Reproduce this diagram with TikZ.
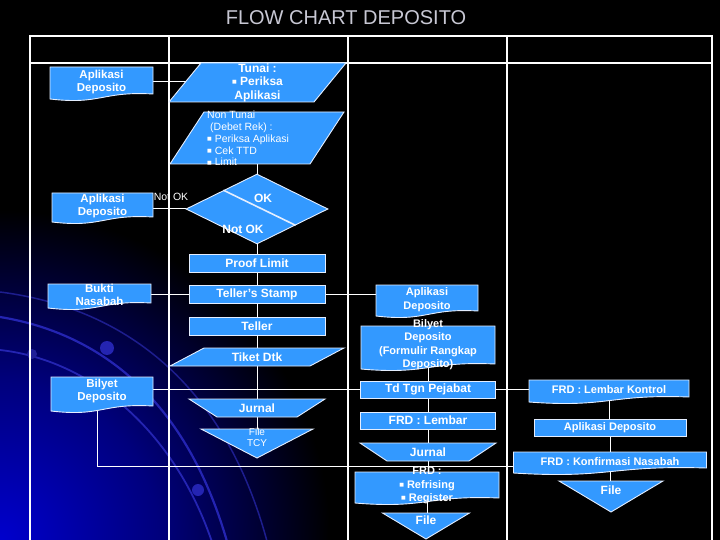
\documentclass[tikz,border=0pt]{standalone}
\usepackage{fontspec}
\setmainfont{Liberation Sans}
\newfontfamily\djv{DejaVu Sans}
\usetikzlibrary{shapes.geometric,calc}
\definecolor{flow}{RGB}{51,153,255}
\definecolor{edgec}{RGB}{228,238,255}
\definecolor{titlec}{RGB}{200,200,212}
\definecolor{arcc}{RGB}{36,36,178}
\definecolor{glowA}{RGB}{0,0,205}
\definecolor{glowB}{RGB}{0,0,125}
\pgfdeclarelayer{bgl}
\pgfdeclarelayer{lines}
\pgfdeclarelayer{shapes}
\pgfsetlayers{bgl,lines,shapes,main}
\pgfdeclareradialshading{glow}{\pgfpoint{0bp}{0bp}}{color(0bp)=(glowA); color(12bp)=(glowB); color(25bp)=(black); color(50bp)=(black)}
\newcommand\sqb{\raisebox{0.3ex}{\djv\fontsize{5}{5}\selectfont ■}}
\newcommand\mydoc[1]{\draw[shp] (#1.north west) -- (#1.north east) -- ([yshift=3pt]#1.south east) .. controls ([yshift=6pt]#1.south) and ([yshift=-8pt]#1.south) .. ([yshift=-2pt]#1.south west) -- cycle;}
\newcommand\myparal[2]{\draw[shp] (#1.south west) -- ([xshift=-#2]#1.south east) -- (#1.north east) -- ([xshift=#2]#1.north west) -- cycle;}
\newcommand\mytrap[2]{\draw[shp] (#1.north west) -- (#1.north east) -- ([xshift=-#2]#1.south east) -- ([xshift=#2]#1.south west) -- cycle;}
\newcommand\mytri[1]{\draw[shp] (#1.north west) -- (#1.north east) -- (#1.south) -- cycle;}
\tikzset{
  lbl/.style={text=white, font=\fontsize{12}{13.5}\selectfont\bfseries, align=center, inner sep=0pt},
  lblr/.style={lbl, font=\fontsize{11}{13.5}\selectfont\bfseries},
  lbld/.style={lbl, font=\fontsize{11.5}{13}\selectfont\bfseries},
  lbls/.style={text=white, font=\fontsize{10.5}{11.75}\selectfont, inner sep=0pt},
  shp/.style={fill=flow, draw=edgec, line width=0.9pt, line join=miter},
  rbox/.style={lbl, shp, rectangle},
  ghost/.style={rectangle, inner sep=0pt, outer sep=0pt},
  conn/.style={white, line width=1pt},
  grid/.style={white, line width=1.3pt},
}
\begin{document}
\begin{tikzpicture}[x=1pt, y=-1pt]
\useasboundingbox (0,0) rectangle (720,540);
% background
\begin{pgfonlayer}{bgl}
  \fill[black] (0,0) rectangle (720,540);
  \begin{scope}
    \clip (0,0) rectangle (720,540);
    \shade[shading=glow] (0,540) circle (330);
    \draw[arcc!80!black, line width=1.5pt] (0,292) .. controls (140,310) and (230,400) .. (268,545);
    \draw[arcc, line width=2.2pt] (0,317) .. controls (110,335) and (190,410) .. (228,545);
    \draw[arcc, line width=1.8pt] (0,350) .. controls (90,360) and (175,430) .. (213,545);
    \fill[arcc] (107,348) circle (7);
    \fill[arcc!85!black] (32,354) circle (5);
    \fill[arcc] (198,490) circle (6);
  \end{scope}
  % table
  \draw[grid] (30,545) -- (30,36) -- (712,36) -- (712,545);
  \draw[grid] (30,63) -- (712,63);
  \draw[grid] (169,36) -- (169,545);
  \draw[grid] (348,36) -- (348,545);
  \draw[grid] (507,36) -- (507,545);
\end{pgfonlayer}

\node[text=titlec, font=\fontsize{20}{24}\selectfont, inner sep=0pt] (title) at (346,18) {FLOW CHART DEPOSITO};

% left column documents
\node[ghost, minimum width=103, minimum height=30, label={[lbld]center:{Aplikasi\\Deposito}}] (d1) at (101.5,82) {};
\node[ghost, minimum width=101, minimum height=27, label={[lbld]center:{Aplikasi\\Deposito}}] (d2) at (102.5,206.5) {};
\node[ghost, minimum width=103, minimum height=22, label={[lbld]center:{Bukti\\Nasabah}}] (d3) at (99.5,295) {};
\node[ghost, minimum width=102, minimum height=32, label={[lbld, yshift=1.5pt]center:{Bilyet\\Deposito}}] (d4) at (102,393) {};

% middle column
\node[ghost, minimum width=177, minimum height=39, label={[lbl]center:{Tunai :\\\sqb{} Periksa\\Aplikasi}}] (p1) at (257.5,82.5) {};
\node[ghost, minimum width=174, minimum height=52] (p2) at (257,138) {};
\node[lbls, align=left, anchor=west] (p2t) at (207,138.5) {Non Tunai\\\hspace{3pt}(Debet Rek) :\\\sqb{} Periksa Aplikasi\\\sqb{} Cek TTD\\\sqb{} Limit};
\node[diamond, shp, minimum width=142, minimum height=70, inner sep=0pt] (dm) at (257,209) {};
\draw[edgec, line width=1.6pt] ($(dm.west)!0.53!(dm.north)$) -- ($(dm.east)!0.46!(dm.south)$);
\node[lbl] (okl) at (263,198) {OK};
\node[lbl] (nokl) at (243,229) {Not OK};
\node[lbls] (nok2) at (171,197) {Not OK};
\node[rbox, minimum width=136, minimum height=18] (r1) at (257,263) {Proof Limit};
\node[rbox, minimum width=136, minimum height=18] (r2) at (257,294) {Teller's Stamp};
\node[rbox, minimum width=136, minimum height=18] (r3) at (257,326) {Teller};
\node[ghost, minimum width=174, minimum height=18, label={[lbl]center:{Tiket Dtk}}] (p3) at (257,357) {};
\node[ghost, minimum width=136, minimum height=18, label={[lbl]center:{Jurnal}}] (t1) at (257,408) {};
\node[ghost, minimum width=112, minimum height=29] (tri1) at (257,443.5) {};
\node[lbls, font=\fontsize{10}{11}\selectfont, align=center] (tri1t) at (257,437.5) {File\\TCY};

% middle-right column
\node[ghost, minimum width=102, minimum height=29, label={[lblr]center:{Aplikasi\\Deposito}}] (d5) at (427,299.5) {};
\node[ghost, minimum width=134, minimum height=41, label={[lblr, yshift=2pt]center:{Bilyet\\Deposito\\(Formulir Rangkap\\Deposito)}}] (d6) at (428,346.5) {};
\node[rbox, minimum width=135, minimum height=17] (r4) at (428,389.5) {Td Tgn Pejabat};
\node[rbox, minimum width=135, minimum height=17] (r5) at (428,420.5) {FRD : Lembar};
\node[ghost, minimum width=136, minimum height=18, label={[lbl]center:{Jurnal}}] (t2) at (428,452) {};
\node[ghost, minimum width=144, minimum height=29, label={[lblr, yshift=1pt]center:{FRD :\\\sqb{} Refrising\\\sqb{} Register}}] (d7) at (427,486.5) {};
\node[ghost, minimum width=87, minimum height=26, label={[lbl, yshift=6pt]center:{File}}] (tri2) at (426,526) {};

% right column
\node[ghost, minimum width=160, minimum height=20, label={[lblr]center:{FRD : Lembar Kontrol}}] (d8) at (609,390) {};
\node[rbox, lblr, minimum width=152, minimum height=17] (r6) at (610,427.5) {Aplikasi Deposito};
\node[ghost, minimum width=193, minimum height=19, label={[lblr]center:{FRD : Konfirmasi Nasabah}}] (d9) at (610,461.5) {};
\node[ghost, minimum width=104, minimum height=31, label={[lbl, yshift=6.5pt]center:{File}}] (tri3) at (611,496.5) {};

% custom shapes
\begin{pgfonlayer}{shapes}
  \mydoc{d1}
  \mydoc{d2}
  \mydoc{d3}
  \mydoc{d4}
  \myparal{p1}{32pt}
  \myparal{p2}{34pt}
  \myparal{p3}{34pt}
  \mytrap{t1}{28pt}
  \mytri{tri1}
  \mydoc{d5}
  \mydoc{d6}
  \mytrap{t2}{27pt}
  \mydoc{d7}
  \mytri{tri2}
  \mydoc{d8}
  \mydoc{d9}
  \mytri{tri3}
\end{pgfonlayer}

% connectors
\begin{pgfonlayer}{lines}
  \draw[conn] (d1) -- (d1 -| p1);
  \draw[conn] (p2) -- (p2 |- dm);
  \draw[conn] (d2.east |- dm) -- (dm);
  \draw[conn] (dm) -- (dm |- r1);
  \draw[conn] (r1) -- (r1 |- r2);
  \draw[conn] (d3.east |- r2) -- (r2);
  \draw[conn] (r2) -- (r2 -| d5.west);
  \draw[conn] (r2) -- (r2 |- r3);
  \draw[conn] (r3) -- (r3 |- p3);
  \draw[conn] (p3) -- (p3 |- t1);
  \draw[conn] (t1) -- (t1 |- tri1);
  \draw[conn] (d4.east |- r4) -- (r4);
  \draw[conn] (d6) -- (d6 |- r4);
  \draw[conn] (r4) -- (r4 |- r5);
  \draw[conn] (r5) -- (r5 |- t2);
  \draw[conn] (t2) -- (t2 |- d7);
  \draw[conn] (d7) -- (d7 |- tri2);
  \draw[conn] (r4) -- (r4 -| d8.west);
  \draw[conn] (d8) -- (d8 |- r6);
  \draw[conn] (r6) -- (r6 |- d9);
  \draw[conn] (d9) -- (d9 |- tri3);
  \draw[conn] ([xshift=-4.5pt]d4.south) |- ([yshift=-4.5pt]d9.west);
\end{pgfonlayer}
\end{tikzpicture}
\end{document}
